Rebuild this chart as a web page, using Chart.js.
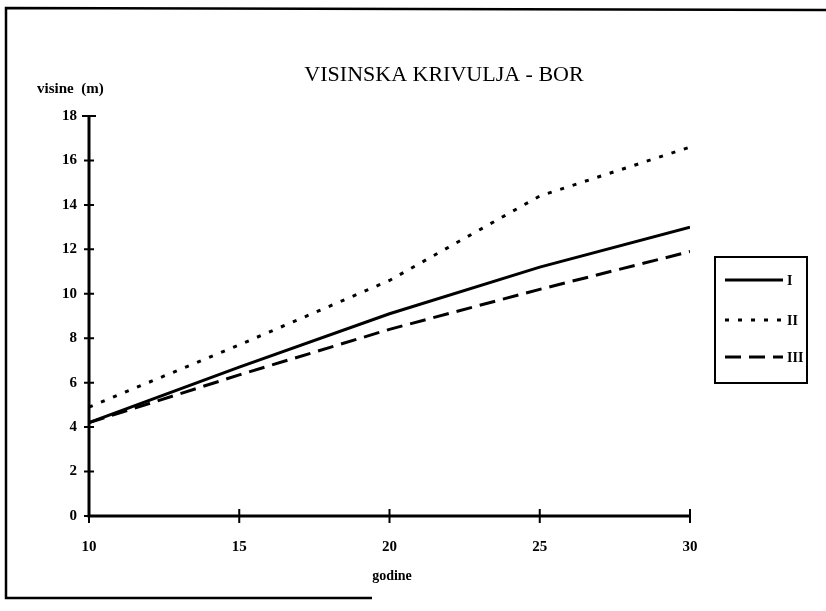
<!DOCTYPE html>
<html>

<head>
    <title>Visinska krivulja - bor</title>
    <script src="https://cdn.jsdelivr.net/npm/chart.js"></script>
    <style>
        body {
            margin: 0;
            background: #fff;
        }

        #wrap {
            width: 826px;
            height: 611px;
        }
    </style>
</head>

<body>
    <div id="wrap">
        <canvas id="visine" width="826" height="611"></canvas>
    </div>

    <script>
        // values
        const godine = [10, 15, 20, 25, 30];
        const bonitetI = [4.2, 6.7, 9.1, 11.2, 13.0];
        const bonitetII = [4.9, 7.7, 10.6, 14.4, 16.6];
        const bonitetIII = [4.2, 6.35, 8.4, 10.2, 11.9];
        const serije = ['I', 'II', 'III'];
        const naslov = 'VISINSKA KRIVULJA - BOR';
        const osY = 'visine  (m)';
        const osX = 'godine';

        const serif = '"Liberation Serif", "DejaVu Serif", serif';

        function toPoints(vals) {
            return vals.map((v, i) => ({ x: godine[i], y: v }));
        }

        // frame, title, axes with crossing ticks, and the boxed legend
        const paperPlugin = {
            id: 'paper',
            beforeDraw(chart) {
                const c = chart.ctx;
                c.save();
                c.fillStyle = '#fff';
                c.fillRect(0, 0, chart.width, chart.height);
                c.strokeStyle = '#000';
                c.lineWidth = 2.5;
                c.beginPath();
                c.moveTo(826, 10);
                c.lineTo(6, 8);
                c.lineTo(6, 598);
                c.lineTo(372, 598);
                c.stroke();
                c.restore();
            },
            afterDatasetsDraw(chart) {
                const c = chart.ctx;
                const xs = chart.scales.x;
                const ys = chart.scales.y;
                const x0 = xs.getPixelForValue(10);
                const x1 = xs.getPixelForValue(30);
                const y0 = ys.getPixelForValue(0);
                const y1 = ys.getPixelForValue(18);
                c.save();
                c.strokeStyle = '#000';
                c.lineWidth = 3;
                c.beginPath();
                c.moveTo(x0, y1);
                c.lineTo(x0, y0);
                c.lineTo(x1, y0);
                c.stroke();
                c.lineWidth = 2;
                c.beginPath();
                for (let v = 0; v <= 18; v += 2) {
                    const py = ys.getPixelForValue(v);
                    const w = v === 18 ? 7 : 5;
                    c.moveTo(x0 - w, py);
                    c.lineTo(x0 + w, py);
                }
                godine.forEach(g => {
                    const px = xs.getPixelForValue(g);
                    c.moveTo(px, y0 - 7);
                    c.lineTo(px, y0 + 7);
                });
                c.stroke();

                // texts
                c.fillStyle = '#000';
                c.textAlign = 'center';
                c.textBaseline = 'middle';
                c.font = '22px ' + serif;
                c.fillText(naslov, 444, 75);
                c.font = 'bold 15px ' + serif;
                c.textAlign = 'left';
                c.fillText(osY, 37, 89);
                c.font = 'bold 14px ' + serif;
                c.textAlign = 'center';
                c.fillText(osX, 392, 576);

                // legend
                c.lineWidth = 2;
                c.strokeRect(715, 257, 92, 126);
                const rows = [280, 320, 357];
                chart.data.datasets.forEach((ds, i) => {
                    c.save();
                    c.lineWidth = 3;
                    c.setLineDash(ds.borderDash || []);
                    c.beginPath();
                    c.moveTo(725, rows[i]);
                    c.lineTo(783, rows[i]);
                    c.stroke();
                    c.restore();
                    c.font = 'bold 14px ' + serif;
                    c.textAlign = 'left';
                    c.fillText(ds.label, 787, rows[i] + 1);
                });
                c.restore();
            }
        };

        const ctx = document.getElementById('visine').getContext('2d');
        const chart = new Chart(ctx, {
            type: 'line',
            data: {
                datasets: [{
                    label: serije[0],
                    data: toPoints(bonitetI),
                    borderColor: '#000',
                    borderWidth: 3,
                    pointRadius: 0,
                    tension: 0
                }, {
                    label: serije[1],
                    data: toPoints(bonitetII),
                    borderColor: '#000',
                    borderWidth: 3,
                    borderDash: [4, 9],
                    pointRadius: 0,
                    tension: 0
                }, {
                    label: serije[2],
                    data: toPoints(bonitetIII),
                    borderColor: '#000',
                    borderWidth: 3,
                    borderDash: [16, 8],
                    pointRadius: 0,
                    tension: 0
                }]
            },
            options: {
                responsive: false,
                animation: false,
                layout: {
                    padding: { left: 0, top: 116, right: 136, bottom: 0 }
                },
                plugins: {
                    legend: { display: false },
                    title: { display: false },
                    tooltip: { enabled: false }
                },
                scales: {
                    x: {
                        type: 'linear',
                        min: 10,
                        max: 30,
                        afterFit(scale) { scale.height = 95; },
                        afterBuildTicks(scale) {
                            scale.ticks = godine.map(v => ({ value: v }));
                        },
                        grid: { display: false, drawTicks: false },
                        border: { display: false },
                        ticks: {
                            padding: 22,
                            color: '#000',
                            font: { family: serif, size: 15, weight: 'bold' }
                        }
                    },
                    y: {
                        min: 0,
                        max: 18,
                        afterFit(scale) { scale.width = 89; },
                        grid: { display: false, drawTicks: false },
                        border: { display: false },
                        ticks: {
                            stepSize: 2,
                            padding: 12,
                            color: '#000',
                            font: { family: serif, size: 15, weight: 'bold' }
                        }
                    }
                }
            },
            plugins: [paperPlugin]
        });
    </script>
</body>

</html>
